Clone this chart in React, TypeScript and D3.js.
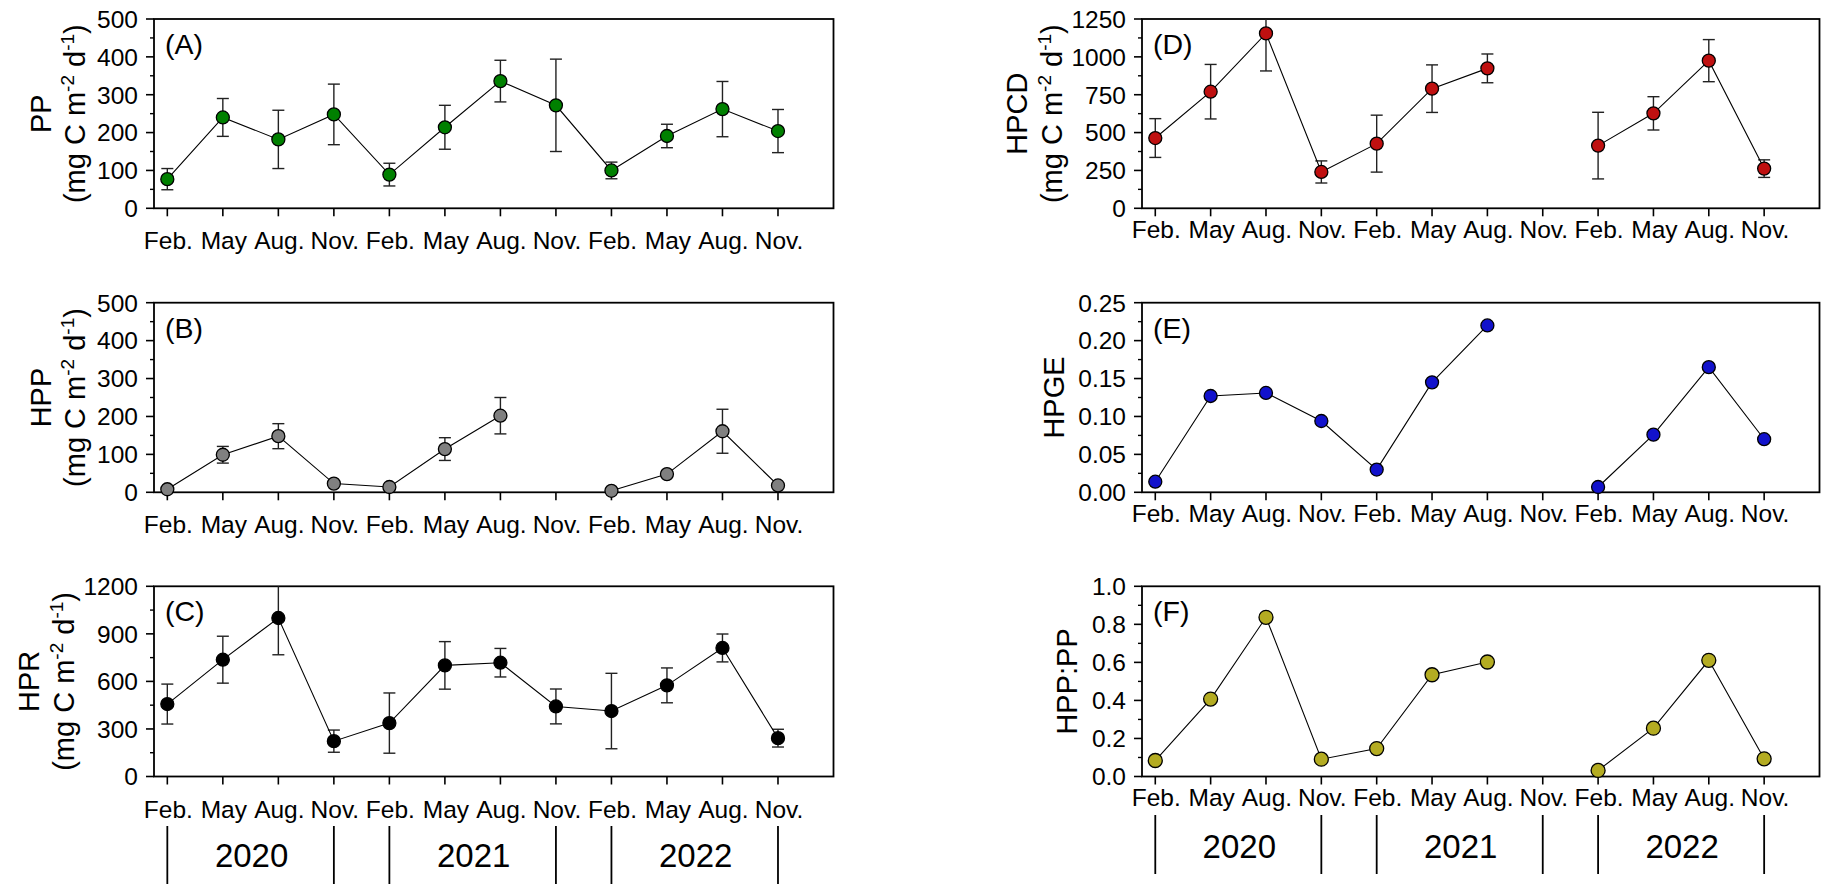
import React, { useEffect, useRef } from "react";
import * as d3 from "d3";

// sampling months, three years (2020-2022)
const months = ["Feb.", "May", "Aug.", "Nov.", "Feb.", "May", "Aug.", "Nov.", "Feb.", "May", "Aug.", "Nov."];
const years = ["2020", "2021", "2022"];

// (A) PP, mg C m-2 d-1
const ppMean = [77, 240, 182, 248, 89, 214, 336, 272, 100, 191, 262, 204];
const ppErr = [28, 50, 77, 80, 30, 58, 55, 122, 22, 31, 73, 57];

// (B) HPP
const hppMean = [8, 99, 148, 23, 14, 114, 202, null, 4, 48, 161, 18];
const hppErr = [null, 22, 33, null, null, 30, 48, null, null, null, 58, null];

// (C) HPR
const hprMean = [457, 737, 1000, 223, 337, 701, 718, 442, 413, 575, 811, 242];
const hprErr = [126, 148, 232, 70, 190, 150, 90, 110, 238, 110, 88, 56];

// (D) HPCD
const hpcdMean = [464, 770, 1155, 240, 427, 790, 924, null, 414, 627, 975, 262];
const hpcdErr = [128, 180, 248, 73, 188, 157, 95, null, 220, 110, 139, 58];

// (E) HPGE
const hpgeMean = [0.014, 0.127, 0.131, 0.094, 0.03, 0.145, 0.22, null, 0.007, 0.076, 0.165, 0.07];

// (F) HPP:PP
const hppPpMean = [0.084, 0.407, 0.837, 0.091, 0.147, 0.535, 0.602, null, 0.032, 0.254, 0.611, 0.093];

const W = 1821;
const H = 884;
const FONT = "'Liberation Sans', Arial, Helvetica, sans-serif";

const columns = [
  { x0: 154, x1: 833.5, labelGap: 41, yearTop: 826, yearBottom: 884, yearBase: 867 },
  { x0: 1142, x1: 1819.5, labelGap: 29.5, yearTop: 815, yearBottom: 874, yearBase: 857.5 },
];
const rows = [
  { y0: 19, y1: 208.3 },
  { y0: 302.7, y1: 492.3 },
  { y0: 586.3, y1: 776.5 },
];

type Seg = [string, boolean];
const unit: Seg[] = [["(mg C m", false], ["-2", true], [" d", false], ["-1", true], [")", false]];

type Panel = {
  letter: string;
  title: Seg[][];
  titleX: number[];
  mean: (number | null)[];
  err: (number | null)[] | null;
  max: number;
  major: number;
  minor: number;
  fmt: string;
  color: string;
  col: number;
  row: number;
};

const panels: Panel[] = [
  { letter: "(A)", title: [[["PP", false]], unit], titleX: [51, 85], mean: ppMean, err: ppErr, max: 500, major: 100, minor: 50, fmt: "d", color: "#008000", col: 0, row: 0 },
  { letter: "(B)", title: [[["HPP", false]], unit], titleX: [51, 85], mean: hppMean, err: hppErr, max: 500, major: 100, minor: 50, fmt: "d", color: "#808080", col: 0, row: 1 },
  { letter: "(C)", title: [[["HPR", false]], unit], titleX: [39, 74], mean: hprMean, err: hprErr, max: 1200, major: 300, minor: 150, fmt: "d", color: "#000000", col: 0, row: 2 },
  { letter: "(D)", title: [[["HPCD", false]], unit], titleX: [1027, 1062], mean: hpcdMean, err: hpcdErr, max: 1250, major: 250, minor: 125, fmt: "d", color: "#BF1010", col: 1, row: 0 },
  { letter: "(E)", title: [[["HPGE", false]]], titleX: [1064], mean: hpgeMean, err: null, max: 0.25, major: 0.05, minor: 0.025, fmt: ".2f", color: "#1212CC", col: 1, row: 1 },
  { letter: "(F)", title: [[["HPP:PP", false]]], titleX: [1077], mean: hppPpMean, err: null, max: 1.0, major: 0.2, minor: 0.1, fmt: ".1f", color: "#B4AC22", col: 1, row: 2 },
];

function drawPanel(svg: d3.Selection<SVGSVGElement, unknown, null, undefined>, p: Panel) {
  const { x0, x1, labelGap } = columns[p.col];
  const { y0, y1 } = rows[p.row];
  const x = d3.scaleLinear().domain([-0.24, 12]).range([x0, x1]);
  const y = d3.scaleLinear().domain([0, p.max]).range([y1, y0]);
  const fmt = d3.format(p.fmt);
  const g = svg.append("g");

  // frame
  g.append("rect")
    .attr("x", x0)
    .attr("y", y0)
    .attr("width", x1 - x0)
    .attr("height", y1 - y0)
    .attr("fill", "none")
    .attr("stroke", "#000")
    .attr("stroke-width", 1.8);

  // y axis ticks
  const n = Math.round(p.max / p.major);
  const majors = d3.range(0, n + 1).map((i) => i * p.major);
  const minors = d3.range(1, 2 * n, 2).map((i) => i * p.minor);

  g.selectAll(".ymaj")
    .data(majors)
    .join("line")
    .attr("x1", x0 - 8)
    .attr("x2", x0)
    .attr("y1", (d) => y(d))
    .attr("y2", (d) => y(d))
    .attr("stroke", "#000")
    .attr("stroke-width", 1.6);

  g.selectAll(".ymin")
    .data(minors)
    .join("line")
    .attr("x1", x0 - 4)
    .attr("x2", x0)
    .attr("y1", (d) => y(d))
    .attr("y2", (d) => y(d))
    .attr("stroke", "#000")
    .attr("stroke-width", 1.4);

  g.selectAll(".ylab")
    .data(majors)
    .join("text")
    .attr("x", x0 - 16)
    .attr("y", (d) => y(d))
    .attr("dy", "0.36em")
    .attr("text-anchor", "end")
    .attr("font-size", 24.5)
    .text((d) => fmt(d));

  // x axis ticks
  g.selectAll(".xt")
    .data(months)
    .join("line")
    .attr("x1", (_, i) => x(i))
    .attr("x2", (_, i) => x(i))
    .attr("y1", y1)
    .attr("y2", y1 + 8)
    .attr("stroke", "#000")
    .attr("stroke-width", 1.6);

  g.selectAll(".xl")
    .data(months)
    .join("text")
    .attr("x", (_, i) => x(i) + 1)
    .attr("y", y1 + labelGap)
    .attr("text-anchor", "middle")
    .attr("font-size", 24.5)
    .text((d) => d);

  // error bars
  if (p.err) {
    const bars = p.mean
      .map((m, i) => ({ i, m, e: p.err ? p.err[i] : null }))
      .filter((d) => d.m != null && d.e != null) as { i: number; m: number; e: number }[];
    bars.forEach((d) => {
      const top = Math.min(d.m + d.e, p.max);
      const bot = Math.max(d.m - d.e, 0);
      const cx = x(d.i);
      g.append("line")
        .attr("x1", cx)
        .attr("x2", cx)
        .attr("y1", y(top))
        .attr("y2", y(bot))
        .attr("stroke", "#222")
        .attr("stroke-width", 1.4);
      const caps = [bot];
      if (d.m + d.e < p.max) caps.push(top);
      caps.forEach((v) => {
        g.append("line")
          .attr("x1", cx - 6)
          .attr("x2", cx + 6)
          .attr("y1", y(v))
          .attr("y2", y(v))
          .attr("stroke", "#222")
          .attr("stroke-width", 1.4);
      });
    });
  }

  // connecting line
  const line = d3
    .line<number | null>()
    .defined((d) => d != null)
    .x((_, i) => x(i))
    .y((d) => y(d as number));
  g.append("path")
    .attr("d", line(p.mean))
    .attr("fill", "none")
    .attr("stroke", "#000")
    .attr("stroke-width", 1.1);

  // markers
  g.selectAll(".pt")
    .data(p.mean.map((m, i) => ({ m, i })).filter((d) => d.m != null))
    .join("circle")
    .attr("cx", (d) => x(d.i))
    .attr("cy", (d) => y(d.m as number))
    .attr("r", p.col === 1 && p.row === 2 ? 7 : 6.5)
    .attr("fill", p.color)
    .attr("stroke", "#000")
    .attr("stroke-width", 1.3);

  // panel letter
  g.append("text")
    .attr("x", x0 + 11)
    .attr("y", y0 + 35)
    .attr("font-size", 28.5)
    .text(p.letter);

  // y title
  const cy = (y0 + y1) / 2;
  p.title.forEach((segs, li) => {
    const tx = p.titleX[li];
    const t = g
      .append("text")
      .attr("x", tx)
      .attr("y", cy)
      .attr("transform", `rotate(-90, ${tx}, ${cy})`)
      .attr("text-anchor", "middle")
      .attr("font-size", 29);
    let raised = false;
    segs.forEach(([s, sup]) => {
      const ts = t.append("tspan").text(s);
      if (sup && !raised) {
        ts.attr("dy", -11).attr("font-size", 19);
        raised = true;
      } else if (sup) {
        ts.attr("font-size", 19);
      } else if (raised) {
        ts.attr("dy", 11);
        raised = false;
      }
    });
  });
}

function drawYears(svg: d3.Selection<SVGSVGElement, unknown, null, undefined>) {
  columns.forEach((c) => {
    const x = d3.scaleLinear().domain([-0.24, 12]).range([c.x0, c.x1]);
    const g = svg.append("g");
    years.forEach((yr, k) => {
      const a = k * 4;
      const b = k * 4 + 3;
      [a, b].forEach((i) => {
        g.append("line")
          .attr("x1", x(i))
          .attr("x2", x(i))
          .attr("y1", c.yearTop)
          .attr("y2", c.yearBottom)
          .attr("stroke", "#000")
          .attr("stroke-width", 1.8);
      });
      g.append("text")
        .attr("x", x((a + b) / 2) + 1)
        .attr("y", c.yearBase)
        .attr("text-anchor", "middle")
        .attr("font-size", 33)
        .text(yr);
    });
  });
}

export default function App() {
  const svgRef = useRef<SVGSVGElement | null>(null);

  useEffect(() => {
    if (!svgRef.current) return;
    const svg = d3.select(svgRef.current);
    svg.selectAll("*").remove();
    panels.forEach((p) => drawPanel(svg, p));
    drawYears(svg);
  }, []);

  return (
    <svg
      ref={svgRef}
      width={W}
      height={H}
      style={{ position: "absolute", left: 0, top: 0, background: "#fff", fontFamily: FONT, display: "block" }}
    />
  );
}
